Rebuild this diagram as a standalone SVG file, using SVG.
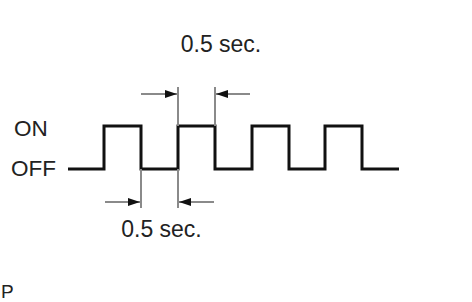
<svg xmlns="http://www.w3.org/2000/svg" width="472" height="302" viewBox="0 0 472 302">
<defs>
<marker id="ah" viewBox="0 0 12 8" refX="12" refY="4" markerWidth="12" markerHeight="8" markerUnits="userSpaceOnUse" orient="auto">
<path d="M0,0 L12,4 L0,8 Z" fill="#111"/>
</marker>
</defs>
<style>
.t{font-family:"Liberation Sans",Arial,sans-serif;fill:#222}
.w{fill:none;stroke:#111;stroke-width:3;stroke-linejoin:miter}
.d{stroke:#8a8a8a;stroke-width:2;fill:none}
</style>
<rect width="472" height="302" fill="#fff"/>
<g id="labels">
<text class="t" x="14" y="136" font-size="22.5">ON</text>
<text class="t" x="11" y="176" font-size="22.5">OFF</text>
<text class="t" x="1" y="298" font-size="19">P</text>
</g>
<g id="waveform">
<path class="w" d="M68,169 H104 V126 H141 V169 H178 V126 H215 V169 H252 V126 H289 V169 H325 V126 H362 V169 H399"/>
</g>
<g id="connectors">
<path class="d" d="M178,87 V126 M215,87 V126 M141,169 V208 M178,169 V208"/>
<path class="d" d="M141,94 H177" marker-end="url(#ah)"/>
<path class="d" d="M250,94 H216" marker-end="url(#ah)"/>
<path class="d" d="M105,202 H140" marker-end="url(#ah)"/>
<path class="d" d="M214,202 H179" marker-end="url(#ah)"/>
</g>
<g id="dim-labels">
<text class="t" x="221" y="52" font-size="23" text-anchor="middle">0.5 sec.</text>
<text class="t" x="161.5" y="237" font-size="23" text-anchor="middle">0.5 sec.</text>
</g>
</svg>
